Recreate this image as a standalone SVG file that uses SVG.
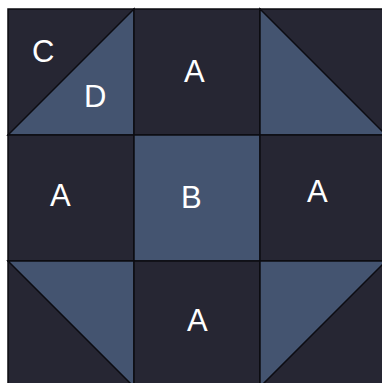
<svg xmlns="http://www.w3.org/2000/svg" width="382" height="383" viewBox="0 0 382 383">
<style>
.d{fill:#262633;stroke:#0c0c12;stroke-width:1.5}
.b{fill:#445470;stroke:#0c0c12;stroke-width:1.5}
.t{font-family:"Liberation Sans",Arial,sans-serif;font-size:31px;fill:#ffffff}
</style>
<rect width="382" height="383" fill="#ffffff"/>
<g id="top-left">
<rect class="d" x="8" y="9" width="126" height="126"/>
<polygon class="b" points="8,135 134,9 134,135"/>
<text class="t" x="32" y="62">C</text>
<text class="t" x="84" y="107">D</text>
</g>
<g id="top-middle">
<rect class="d" x="134" y="9" width="126" height="126"/>
<text class="t" x="184" y="82">A</text>
</g>
<g id="top-right">
<rect class="d" x="260" y="9" width="126" height="126"/>
<polygon class="b" points="260,9 386,135 260,135"/>
</g>
<g id="middle-left">
<rect class="d" x="8" y="135" width="126" height="126"/>
<text class="t" x="50" y="206">A</text>
</g>
<g id="center">
<rect class="b" x="134" y="135" width="126" height="126"/>
<text class="t" x="181" y="208">B</text>
</g>
<g id="middle-right">
<rect class="d" x="260" y="135" width="126" height="126"/>
<text class="t" x="307" y="202">A</text>
</g>
<g id="bottom-left">
<rect class="d" x="8" y="261" width="126" height="126"/>
<polygon class="b" points="8,261 134,261 134,387"/>
</g>
<g id="bottom-middle">
<rect class="d" x="134" y="261" width="126" height="126"/>
<text class="t" x="187" y="331">A</text>
</g>
<g id="bottom-right">
<rect class="d" x="260" y="261" width="126" height="126"/>
<polygon class="b" points="260,261 386,261 260,387"/>
</g>
<g id="connectors"/>
</svg>
